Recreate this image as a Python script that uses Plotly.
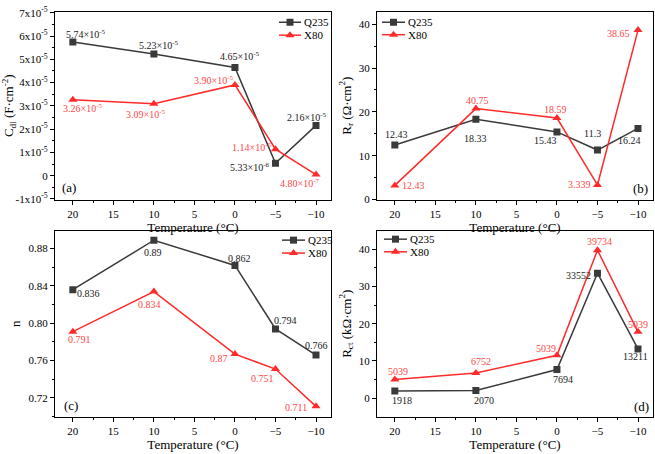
import plotly.graph_objects as go

# ---------------- data ----------------
temps = [20, 10, 0, -5, -10]

cdl_q235 = [5.74e-5, 5.23e-5, 4.65e-5, 5.33e-6, 2.16e-5]
cdl_x80 = [3.26e-5, 3.09e-5, 3.90e-5, 1.14e-5, 4.80e-7]
cdl_q235_lbl = ["5.74×10<sup>-5</sup>", "5.23×10<sup>-5</sup>", "4.65×10<sup>-5</sup>",
                "5.33×10<sup>-6</sup>", "2.16×10<sup>-5</sup>"]
cdl_x80_lbl = ["3.26×10<sup>-5</sup>", "3.09×10<sup>-5</sup>", "3.90×10<sup>-5</sup>",
               "1.14×10<sup>-5</sup>", "4.80×10<sup>-7</sup>"]

rr_q235 = [12.43, 18.33, 15.43, 11.3, 16.24]
rr_x80 = [3.24, 20.75, 18.59, 3.339, 38.65]
rr_q235_lbl = ["12.43", "18.33", "15.43", "11.3", "16.24"]
rr_x80_lbl = ["12.43", "40.75", "18.59", "3.339", "38.65"]

n_q235 = [0.836, 0.889, 0.862, 0.794, 0.766]
n_x80 = [0.791, 0.834, 0.767, 0.751, 0.711]
n_q235_lbl = ["0.836", "0.89", "0.862", "0.794", "0.766"]
n_x80_lbl = ["0.791", "0.834", "0.87", "0.751", "0.711"]

rct_q235 = [1.918, 2.070, 7.694, 33.552, 13.211]
rct_x80 = [5.039, 6.752, 11.5, 39.734, 17.8]
rct_q235_lbl = ["1918", "2070", "7694", "33552", "13211"]
rct_x80_lbl = ["5039", "6752", "5039", "39734", "5039"]

cdl_ticks = [-1e-5, 0, 1e-5, 2e-5, 3e-5, 4e-5, 5e-5, 6e-5, 7e-5]
cdl_ticktext = ["-1x10<sup>-5</sup>", "0", "1x10<sup>-5</sup>", "2x10<sup>-5</sup>",
                "3x10<sup>-5</sup>", "4x10<sup>-5</sup>", "5x10<sup>-5</sup>",
                "6x10<sup>-5</sup>", "7x10<sup>-5</sup>"]

series_names = ["Q235", "X80"]

# ---------------- style ----------------
FONT = "Liberation Serif"
C_Q = "#3a3a3a"
C_X = "#ff2a2a"
T_Q = "#1a1a1a"
T_X = "#ff4848"
W, H = 655, 454

# label offsets in px (dx right, dy down)
off_a_q = [(13, -8), (5, -9), (5, -11), (-26, 4), (-10, -8)]
off_a_x = [(10, 8), (-8, 10), (-21, -5), (-24, -2), (-17, 8)]
off_b_q = [(2, -11), (0, 19), (-11, 9), (-5, -17), (-9, 12)]
off_b_x = [(19, 0), (2, -8), (-1, -9), (-18, 0), (-20, 3)]
off_c_q = [(16, 4), (-1, 12), (5, -7), (10, -8), (0, -10)]
off_c_x = [(7, 8), (-4, 13), (-16, 4), (-13, 9), (-20, 1)]
off_d_q = [(7, 9), (8, 10), (6, 10), (-19, 2), (-3, 8)]
off_d_x = [(3, -8), (5, -12), (-11, -7), (2, -9), (0, -7)]

# legend placement (pixels): line start x, line end x, row y's
legend_pos = {
    1: (279, 301, 15.7, 29),
    2: (382, 405, 15.7, 28.5),
    3: (282, 305, 240, 253.3),
    4: (384, 407, 239, 252),
}


def px(x0, x1, y0, y1):
    return [x0 / W, x1 / W], [1 - y1 / H, 1 - y0 / H]


dom = {
    1: px(55, 331, 5, 198.3),
    2: px(377, 653, 5, 198.3),
    3: px(55, 331, 230.5, 421.7),
    4: px(377, 653, 230.5, 421.7),
}

fig = go.Figure()
annotations = []

panels = [
    (1, cdl_q235, cdl_x80, cdl_q235_lbl, cdl_x80_lbl, off_a_q, off_a_x),
    (2, rr_q235, rr_x80, rr_q235_lbl, rr_x80_lbl, off_b_q, off_b_x),
    (3, n_q235, n_x80, n_q235_lbl, n_x80_lbl, off_c_q, off_c_x),
    (4, rct_q235, rct_x80, rct_q235_lbl, rct_x80_lbl, off_d_q, off_d_x),
]

for k, yq, yx, lq, lx, oq, ox in panels:
    sfx = "" if k == 1 else str(k)
    fig.add_trace(go.Scatter(
        x=temps, y=yq, name=series_names[0], mode="lines+markers",
        line=dict(color=C_Q, width=1.5),
        marker=dict(symbol="square", size=7, color=C_Q),
        xaxis="x" + sfx, yaxis="y" + sfx, showlegend=False))
    fig.add_trace(go.Scatter(
        x=temps, y=yx, name=series_names[1], mode="lines+markers",
        line=dict(color=C_X, width=1.5),
        marker=dict(symbol="triangle-up", size=8, color=C_X),
        xaxis="x" + sfx, yaxis="y" + sfx, showlegend=False))
    for vals, lbls, offs, col in ((yq, lq, oq, T_Q), (yx, lx, ox, T_X)):
        for t, v, s, (dx, dy) in zip(temps, vals, lbls, offs):
            annotations.append(dict(
                x=t, y=v, xref="x" + sfx, yref="y" + sfx, text=s,
                showarrow=False, xshift=dx, yshift=-dy,
                font=dict(family=FONT, size=10, color=col)))

# legends drawn on a pixel-space overlay axis
for k, (lx0, lx1, ry1, ry2) in legend_pos.items():
    for (ry, name, col, sym, sz) in ((ry1, series_names[0], C_Q, "square", 7),
                                    (ry2, series_names[1], C_X, "triangle-up", 8)):
        fig.add_trace(go.Scatter(
            x=[lx0, lx1], y=[ry, ry], mode="lines",
            line=dict(color=col, width=1.5),
            xaxis="x5", yaxis="y5", showlegend=False, hoverinfo="skip"))
        fig.add_trace(go.Scatter(
            x=[(lx0 + lx1) / 2], y=[ry], mode="markers",
            marker=dict(symbol=sym, size=sz, color=col),
            xaxis="x5", yaxis="y5", showlegend=False, hoverinfo="skip"))
        annotations.append(dict(x=lx1 + 1, y=ry, xref="x5", yref="y5", text=name,
                                showarrow=False, xanchor="left", yanchor="middle",
                                font=dict(family=FONT, size=11, color="black")))

axis_common = dict(
    showline=True, linecolor="black", linewidth=1.3, mirror=True,
    ticks="outside", ticklen=4, tickwidth=1, tickcolor="black",
    showgrid=False, zeroline=False, ticklabeloverflow="allow",
    tickfont=dict(family=FONT, size=11, color="black"),
)

for k in range(1, 5):
    sfx = "" if k == 1 else str(k)
    xd, yd = dom[k]
    fig.layout["xaxis" + sfx] = dict(
        axis_common, domain=xd, anchor="y" + sfx,
        range=[22.2, -11.85], tickmode="linear", tick0=0, dtick=5,
        minor=dict(ticks="outside", ticklen=2, tickcolor="black", dtick=2.5, tick0=0),
        title=dict(text="Temperature (°C)", font=dict(family=FONT, size=13, color="black"),
                   standoff=0),
    )

fig.layout["yaxis"] = dict(
    axis_common, domain=dom[1][1], anchor="x", range=[-1.03e-5, 7.04e-5],
    tickmode="array", tickvals=cdl_ticks, ticktext=cdl_ticktext,
    minor=dict(ticks="outside", ticklen=2, tickcolor="black", dtick=0.5e-5, tick0=0),
    title=dict(text="C<sub>dl</sub> (F·cm<sup>-2</sup>)",
               font=dict(family=FONT, size=13, color="black"), standoff=4),
)
fig.layout["yaxis2"] = dict(
    axis_common, domain=dom[2][1], anchor="x2", range=[0, 42.8],
    tickmode="linear", tick0=0, dtick=10,
    minor=dict(ticks="outside", ticklen=2, tickcolor="black", dtick=5, tick0=0),
    title=dict(text="R<sub>r</sub> (Ω·cm<sup>2</sup>)",
               font=dict(family=FONT, size=13, color="black"), standoff=4),
)
fig.layout["yaxis3"] = dict(
    axis_common, domain=dom[3][1], anchor="x3", range=[0.7, 0.899],
    tickmode="linear", tick0=0.72, dtick=0.04, tickformat=".2f",
    minor=dict(ticks="outside", ticklen=2, tickcolor="black", dtick=0.02, tick0=0.72),
    title=dict(text="n", font=dict(family=FONT, size=13, color="black"), standoff=4),
)
fig.layout["yaxis4"] = dict(
    axis_common, domain=dom[4][1], anchor="x4", range=[-4.95, 44.9],
    tickmode="linear", tick0=0, dtick=10,
    minor=dict(ticks="outside", ticklen=2, tickcolor="black", dtick=5, tick0=0),
    title=dict(text="R<sub>ct</sub> (kΩ·cm<sup>2</sup>)",
               font=dict(family=FONT, size=13, color="black"), standoff=4),
)
fig.layout["xaxis5"] = dict(domain=[0, 1], range=[0, W], visible=False, anchor="y5",
                            fixedrange=True)
fig.layout["yaxis5"] = dict(domain=[0, 1], range=[H, 0], visible=False, anchor="x5",
                            fixedrange=True)

# panel letters
for txt, x, y in (("(a)", 69, 186), ("(b)", 640, 187), ("(c)", 71, 410), ("(d)", 641, 411)):
    annotations.append(dict(x=x / W, y=1 - y / H, xref="paper", yref="paper", text=txt,
                            showarrow=False, xanchor="center", yanchor="middle",
                            font=dict(family=FONT, size=13, color="black")))

fig.update_layout(
    width=W, height=H, margin=dict(l=0, r=0, t=0, b=0),
    paper_bgcolor="white", plot_bgcolor="rgba(0,0,0,0)",
    annotations=annotations, showlegend=False,
    font=dict(family=FONT),
)

fig.write_html(
    "out.html",
    config={"displayModeBar": False},
    post_script="document.body.style.margin='0';document.body.style.overflow='hidden';",
)
